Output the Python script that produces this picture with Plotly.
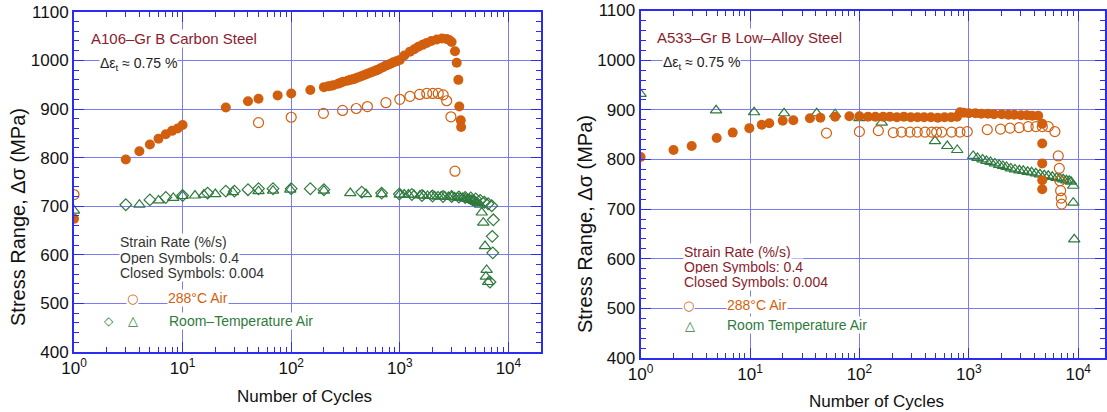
import plotly.graph_objects as go

W, H = 1107, 412

# ---------------- Left panel: A106-Gr B Carbon Steel ----------------
a106_hot_slow_n = [1, 3, 4, 5, 6, 7, 8, 9, 10, 25, 40, 50, 75, 100, 150, 200, 220, 235, 245, 270, 285,
                   300, 330, 350, 370, 390, 410, 435, 460, 485, 510, 540, 570, 600, 630, 665, 700, 740,
                   780, 820, 870, 930, 1000, 1100, 1240,
                   1360, 1480, 1620, 1770, 1950, 2190, 2450, 2700, 2850, 3000, 3220, 3340, 3460,
                   3530, 3640, 3670]
a106_hot_slow_s = [674, 796, 813, 827, 839, 848, 855, 860, 867, 903, 916, 921, 928, 932, 939, 945, 947, 948, 949, 952, 954,
                   956, 958, 960, 961, 963, 965, 967, 969, 971, 973, 975, 977, 979, 981, 984, 986, 989,
                   991, 993, 996, 998, 1001, 1010, 1018,
                   1023, 1028, 1032, 1036, 1040, 1043, 1045, 1044, 1042, 1038, 1019, 995, 960,
                   905, 877, 863]

a106_hot_fast_n = [1, 50, 100, 198, 297, 397, 503, 745, 1000, 1240, 1520, 1770, 2010, 2260, 2510,
                   2700, 2955, 3220]
a106_hot_fast_s = [724, 872, 883, 891, 897, 901, 905, 913, 920, 926, 930, 932, 932, 932, 929,
                   917, 884, 772]

a106_rt_diamond_n = [3, 5, 7, 10, 17, 25, 30, 40, 50, 68, 100, 150, 200, 446, 680, 990, 1290, 1600,
                     2000, 2500, 3000, 3500, 4000, 4500, 5000, 5500, 6000, 6500, 7020, 7260, 7100,
                     7180, 6760]
a106_rt_diamond_s = [703, 713, 718, 722, 727, 731, 731, 734, 736, 736, 736, 736, 734, 729, 727, 725, 724, 722,
                     721, 720, 720, 719, 718, 717, 715, 712, 708, 705, 701, 672, 638,
                     604, 544]

a106_rt_triangle_n = [1, 4, 6, 8.2, 10, 13, 15.7, 20, 29, 50, 68, 98, 200, 350, 488, 680, 1000, 1100, 1200,
                      1350, 1530, 1650, 1800, 1950, 2100, 2250, 2400, 2600, 2800, 3000, 3200, 3400, 3600,
                      3800, 4000, 4200, 4400, 4600, 4800, 5000, 5200, 5480, 5680,
                      5870, 6090, 6300, 6200, 6500]
a106_rt_triangle_s = [691, 703, 712, 717, 721, 722, 724, 725, 729, 731, 732, 734, 732, 727, 725, 725, 724, 724, 724,
                      723, 722, 722, 721, 721, 720, 720, 720, 720, 719, 719, 718, 718, 717,
                      717, 716, 715, 714, 713, 711, 709, 707, 703, 687,
                      666, 618, 569, 555, 544]

# ---------------- Right panel: A533-Gr B Low-Alloy Steel ----------------
a533_hot_slow_n = [1, 2, 2.93, 4.96, 6.95, 9.86, 12.8, 15, 19.9, 24.9, 35.3, 44, 60, 81, 100, 120, 140,
                   165, 190, 220, 255, 295, 340, 390, 450, 520, 600, 690, 780, 830, 900, 1000, 1150,
                   1300, 1500, 1700, 2000, 2300, 2600, 3000, 3400, 3800, 4310, 4690, 4690, 4690,
                   4690, 4690]
a533_hot_slow_s = [805, 819, 827, 843, 854, 863, 870, 873, 878, 879, 883, 884, 886, 887, 887, 886, 886,
                   886, 886, 885, 886, 885, 885, 885, 885, 884, 885, 885, 886, 895, 894, 893, 893,
                   892, 892, 891, 891, 890, 890, 889, 889, 888, 888, 872, 832, 792,
                   758, 740]

a533_hot_fast_n = [50, 100, 149, 204, 243, 290, 338, 398, 458, 508, 565, 697, 830, 968, 1475, 1950,
                   2380, 2890, 3490, 4110, 4700, 5330, 6120, 6570, 6720, 6810, 6910, 7000, 7050]
a533_hot_fast_s = [853, 856, 858, 854, 855, 855, 855, 855, 855, 855, 855, 855, 855, 856, 860, 861,
                   863, 864, 866, 866, 866, 866, 856, 807, 782, 757, 737, 722, 710]

a533_rt_n = [1, 4.9, 10.9, 20.5, 40.7, 60, 100, 160, 491, 636, 784, 1097, 1200, 1336, 1450, 1580,
             1730, 1897, 2050, 2214, 2420, 2640, 2900, 3150, 3450, 3750, 4100, 4470, 4900, 5330,
             5800, 6340, 6800, 7300, 7800, 8280, 8600, 9020, 9020, 9200]
a533_rt_s = [932, 899, 895, 893, 893, 891, 883, 874, 837, 827, 819, 807, 803, 800, 797, 795,
             792, 789, 787, 785, 782, 780, 778, 777, 775, 774, 772, 770, 768, 767,
             765, 763, 762, 760, 758, 757, 755, 747, 713, 639]

# ---------------- Axis labels ----------------
x_tick_vals = [1, 10, 100, 1000, 10000]
x_tick_text = ["10<sup>0</sup>", "10<sup>1</sup>", "10<sup>2</sup>", "10<sup>3</sup>", "10<sup>4</sup>"]
x_minor_vals = [m * 10 ** d for d in range(0, 5) for m in range(2, 10)]
y_tick_vals = [400, 500, 600, 700, 800, 900, 1000, 1100]

AXIS_BLUE = "#2b2bf2"
GRID_BLUE = "#7b7bf4"
ORANGE = "#d25f0e"
GREEN = "#2f7a3e"
DARKRED = "#8a1c2e"
FONT = "Liberation Sans, Arial, sans-serif"

fig = go.Figure()


def add_markers(xs, ys, symbol, color, size, xa, ya, lw=1.2):
    fig.add_trace(go.Scatter(
        x=xs, y=ys, mode="markers", xaxis=xa, yaxis=ya, showlegend=False,
        marker=dict(symbol=symbol, size=size, color=color, line=dict(color=color, width=lw)),
    ))


# left
add_markers(a106_rt_diamond_n, a106_rt_diamond_s, "diamond-open", GREEN, 9, "x", "y")
add_markers(a106_rt_triangle_n, a106_rt_triangle_s, "triangle-up-open", GREEN, 10, "x", "y")
add_markers(a106_hot_fast_n, a106_hot_fast_s, "circle-open", ORANGE, 10, "x", "y")
add_markers(a106_hot_slow_n, a106_hot_slow_s, "circle", ORANGE, 10, "x", "y", lw=0)
# right
add_markers(a533_rt_n, a533_rt_s, "triangle-up-open", GREEN, 10, "x2", "y2")
add_markers(a533_hot_fast_n, a533_hot_fast_s, "circle-open", ORANGE, 10, "x2", "y2")
add_markers(a533_hot_slow_n, a533_hot_slow_s, "circle", ORANGE, 10, "x2", "y2", lw=0)


def xaxis_style(domain, rng, anchor):
    return dict(
        type="log", range=rng, domain=domain, anchor=anchor, automargin=False,
        showline=True, linecolor=AXIS_BLUE, linewidth=2, mirror="allticks",
        ticks="inside", ticklen=10, tickwidth=1.3, tickcolor=AXIS_BLUE,
        tickmode="array", tickvals=x_tick_vals, ticktext=x_tick_text,
        tickfont=dict(family=FONT, size=17, color="#111"),
        showgrid=True, gridcolor=GRID_BLUE, gridwidth=1.2, zeroline=False,
        minor=dict(ticks="inside", ticklen=5, tickwidth=1.2, tickcolor=AXIS_BLUE,
                   tickmode="array", tickvals=x_minor_vals, showgrid=False),
    )


def yaxis_style(domain, anchor):
    return dict(
        range=[400, 1100], domain=domain, anchor=anchor, automargin=False,
        showline=True, linecolor=AXIS_BLUE, linewidth=2, mirror="allticks",
        ticks="inside", ticklen=10, tickwidth=1.3, tickcolor=AXIS_BLUE,
        tickmode="array", tickvals=y_tick_vals,
        tickfont=dict(family=FONT, size=17, color="#111"),
        showgrid=True, gridcolor=GRID_BLUE, gridwidth=1.2, zeroline=False,
        minor=dict(ticks="inside", ticklen=5, tickwidth=1.2, tickcolor=AXIS_BLUE,
                   dtick=20, tick0=400, showgrid=False),
    )


fig.update_layout(
    width=W, height=H, margin=dict(l=0, r=0, t=0, b=0, autoexpand=False),
    paper_bgcolor="white", plot_bgcolor="white",
    font=dict(family=FONT, size=14, color="#111"),
    xaxis=xaxis_style([74 / W, 541 / W], [0, 4.3], "y"),
    yaxis=yaxis_style([1 - 352 / H, 1 - 11.8 / H], "x"),
    xaxis2=xaxis_style([640.6 / W, 1105 / W], [0, 4.245], "y2"),
    yaxis2=yaxis_style([1 - 358 / H, 1 - 10.5 / H], "x2"),
)


def ann(text, x, y, size, color, xanchor="left", angle=0, bg="rgba(0,0,0,0)", family=FONT):
    fig.add_annotation(
        text=text, x=x / W, y=1 - y / H, xref="paper", yref="paper",
        xanchor=xanchor, yanchor="middle", showarrow=False, textangle=angle,
        font=dict(family=family, size=size, color=color), bgcolor=bg, borderpad=0,
    )


SYM = "DejaVu Sans"
WH = "white"
# left annotations
ann("A106–Gr B Carbon Steel", 90, 39, 15, DARKRED, bg=WH)
ann("Δε<sub>t</sub> ≈ 0.75 %", 99, 64, 14, "#222", bg=WH)
ann("Strain Rate (%/s)", 119, 242, 14, "#333", bg=WH)
ann("Open Symbols: 0.4", 119, 258, 14, "#333", bg=WH)
ann("Closed Symbols: 0.004", 119, 273, 14, "#333", bg=WH)
ann("○", 132, 298, 13, ORANGE, xanchor="center", family=SYM, bg=WH)
ann("288°C Air", 167, 298, 14, ORANGE, bg=WH)
ann("◇", 109, 321, 12, GREEN, xanchor="center", family=SYM, bg=WH)
ann("△", 133, 320, 13, GREEN, xanchor="center", family=SYM, bg=WH)
ann("Room–Temperature Air", 168, 321, 14, GREEN, bg=WH)
ann("Stress Range, Δσ (MPa)", 18, 217, 20, "#111", xanchor="center", angle=-90)
ann("Number of Cycles", 304, 396, 17, "#111", xanchor="center")

# right annotations
ann("A533–Gr B Low–Alloy Steel", 656, 38, 15, DARKRED, bg=WH)
ann("Δε<sub>t</sub> ≈ 0.75 %", 662, 63, 14, "#222", bg=WH)
ann("Strain Rate (%/s)", 683, 252, 14, DARKRED, bg=WH)
ann("Open Symbols: 0.4", 683, 267, 14, DARKRED, bg=WH)
ann("Closed Symbols: 0.004", 683, 282, 14, DARKRED, bg=WH)
ann("○", 688, 305, 13, ORANGE, xanchor="center", family=SYM, bg=WH)
ann("288°C Air", 726, 305, 14, ORANGE, bg=WH)
ann("△", 690, 325, 13, GREEN, xanchor="center", family=SYM, bg=WH)
ann("Room Temperature Air", 726, 325, 14, GREEN, bg=WH)
ann("Stress Range, Δσ (MPa)", 585, 224, 20, "#111", xanchor="center", angle=-90)
ann("Number of Cycles", 876, 401, 17, "#111", xanchor="center")

fig.write_html("out.html", config={"displayModeBar": False},
               post_script="document.body.style.margin='0';")
